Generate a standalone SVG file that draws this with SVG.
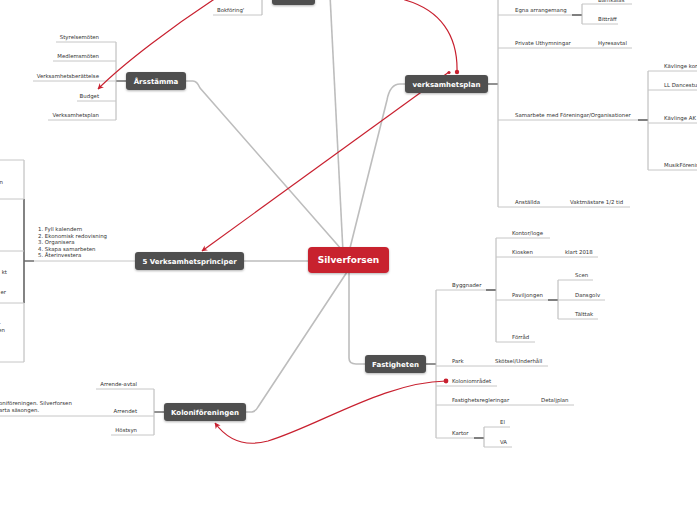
<svg xmlns="http://www.w3.org/2000/svg" width="697" height="520" viewBox="0 0 697 520">
<style>
.t{font-family:"DejaVu Sans",Verdana,sans-serif;font-size:5.4px;fill:#333}
.e{text-anchor:end}
.n{font-family:"DejaVu Sans",Verdana,sans-serif;font-size:7px;font-weight:bold;fill:#fff;text-anchor:middle}
.u{stroke:#c6c6c6;stroke-width:1;fill:none}
.v{stroke:#b4b4b4;stroke-width:1;fill:none}
.d{stroke:#555;stroke-width:1.3;fill:none}
.m{stroke:#bdbdbd;stroke-width:1.6;fill:none;stroke-linejoin:round}
.r{stroke:#c8202f;stroke-width:1.2;fill:none}
.box{fill:#4f4f4f}
</style>
<defs>
<marker id="ar" viewBox="0 0 10 10" refX="9" refY="5" markerWidth="6" markerHeight="6" orient="auto" markerUnits="userSpaceOnUse">
<path d="M0,0 L10,5 L0,10 L3,5 Z" fill="#c8202f"/>
</marker>
<filter id="sh" x="-10%" y="-20%" width="120%" height="150%">
<feDropShadow dx="0" dy="1" stdDeviation="0.8" flood-opacity="0.3"/>
</filter>
</defs>
<rect width="697" height="520" fill="#fff"/>

<g id="connectors">
<path class="m" d="M343,252 L330,-5"/>
<path class="m" d="M186,81 L193,81 Q197,81 200,88 L342,250"/>
<path class="m" d="M350,248 L387,100 Q390,84 400,84 L405,84"/>
<path class="m" d="M244,261 L308,261"/>
<path class="m" d="M246,412 L252,412 Q256,411 258,407 L347,272"/>
<path class="m" d="M349,273 L349,358 Q349,364 356,364 L365,364"/>

<!-- Top node branch -->
<path class="u" d="M213,15 L262,15"/>
<path class="v" d="M262,15 L262,-2"/>

<!-- Årsstämma branch -->
<path class="d" d="M116,81 L126,81"/>
<path class="v" d="M116,42 L116,120"/>
<path class="u" d="M56,42 L116,42 M53,61 L116,61 M33,81 L116,81 M77,101 L116,101 M48,120 L116,120"/>

<!-- verksamhetsplan branch -->
<path class="d" d="M488,84 L498,84"/>
<path class="v" d="M498,-2 L498,207"/>
<path class="u" d="M498,15 L572,15 M498,48 L632,48 M498,120 L638,120 M498,207 L630,207"/>
<path class="d" d="M572,15 L582,15 M638,120 L648,120"/>
<path class="v" d="M582,4 L582,24 M648,71 L648,170"/>
<path class="u" d="M582,4 L632,4 M582,24 L618,24 M648,71 L700,71 M648,90 L700,90 M648,123 L700,123 M648,170 L700,170"/>

<!-- 5 Verksamhetsprinciper branch -->
<path class="u" d="M34,261 L135,261"/>
<path class="d" d="M24,261 L34,261"/>
<path class="v" d="M24,160 L24,362"/>
<path class="d" d="M24,199 L24,303"/>
<path class="u" d="M-2,160 L24,160 M-2,199 L24,199 M-2,251 L24,251 M-2,303 L24,303 M-2,362 L24,362"/>

<!-- Koloniföreningen branch -->
<path class="d" d="M154,412 L164,412"/>
<path class="v" d="M154,389 L154,435"/>
<path class="u" d="M96,389 L154,389 M-2,416 L154,416 M111,435 L154,435"/>

<!-- Fastigheten branch -->
<path class="d" d="M426,364 L436,364"/>
<path class="v" d="M436,290 L436,438"/>
<path class="u" d="M436,290 L486,290 M436,366 L548,366 M436,386 L497,386 M436,405 L574,405 M436,438 L474,438"/>
<path class="d" d="M486,290 L496,290 M474,438 L484,438 M548,300 L558,300"/>
<path class="v" d="M496,238 L496,342 M558,280 L558,319 M484,427 L484,447"/>
<path class="u" d="M496,238 L550,238 M496,257 L598,257 M496,300 L548,300 M496,342 L535,342 M558,280 L593,280 M558,300 L605,300 M558,319 L598,319 M484,427 L510,427 M484,447 L512,447"/>

<!-- Relationships -->
<path class="r" d="M457,72 C458,35 440,10 405,0 C360,-25 260,-30 213,0 C175,25 125,62 98,89" marker-end="url(#ar)"/>
<path class="r" d="M449,72 L202,251" marker-end="url(#ar)"/>
<path class="r" d="M446,381 C385,382 320,425 268,441 C242,448 226,438 215,423" marker-end="url(#ar)"/>
<circle cx="457" cy="72" r="2.2" fill="#c8202f"/>
<circle cx="449" cy="72.5" r="1.6" fill="#c8202f"/>
<circle cx="446" cy="381" r="2.4" fill="#c8202f"/>
</g>

<g id="top-node">
<rect class="box" x="272" y="-14" width="43" height="19" rx="3" filter="url(#sh)"/>
<text class="t" x="217" y="12">Bokföring'</text>
</g>

<g id="arsstamma">
<rect class="box" x="126" y="72" width="60" height="18" rx="3" filter="url(#sh)"/>
<text class="n" x="156" y="83.5">Årsstämma</text>
<text class="t e" x="99" y="39">Styrelsemöten</text>
<text class="t e" x="99" y="58">Medlemsmöten</text>
<text class="t e" x="99" y="78">Verksamhetsberättelse</text>
<text class="t e" x="99" y="98">Budget</text>
<text class="t e" x="99" y="117">Verksamhetsplan</text>
</g>

<g id="verksamhetsplan">
<rect class="box" x="405" y="75" width="83" height="18" rx="3" filter="url(#sh)"/>
<text class="n" x="446.5" y="86.5">verksamhetsplan</text>
<text class="t" x="515" y="12">Egna arrangemang</text>
<text class="t" x="598" y="1.5">Barnkalas</text>
<text class="t" x="598" y="21">Bitträff</text>
<text class="t" x="515" y="45">Private Uthymningar</text>
<text class="t" x="598" y="45">Hyresavtal</text>
<text class="t" x="515" y="117">Samarbete med Föreningar/Organisationer</text>
<text class="t" x="664" y="68">Kävlinge kommun</text>
<text class="t" x="664" y="87">LL Dancestudio</text>
<text class="t" x="664" y="120">Kävlinge AK</text>
<text class="t" x="664" y="167">MusikFöreningen</text>
<text class="t" x="515" y="204">Anställda</text>
<text class="t" x="570" y="204">Vaktmästare 1/2 tid</text>
</g>

<g id="verksamhetsprinciper">
<rect class="box" x="135" y="252" width="109" height="18" rx="3" filter="url(#sh)"/>
<text class="n" x="189.5" y="263.5">5 Verksamhetsprinciper</text>
<text class="t" x="38" y="231">1. Fyll kalendern</text>
<text class="t" x="38" y="238">2. Ekonomisk redovisning</text>
<text class="t" x="38" y="244">3. Organisera</text>
<text class="t" x="38" y="251">4. Skapa samarbeten</text>
<text class="t" x="38" y="257">5. Återinvestera</text>
<text class="t e" x="3" y="184">n</text>
<text class="t e" x="7" y="274">kt</text>
<text class="t e" x="6" y="294">er</text>
<text class="t e" x="1" y="324">.</text>
<text class="t e" x="5" y="332">en</text>
</g>

<g id="koloniforeningen">
<rect class="box" x="164" y="403" width="82" height="18" rx="3" filter="url(#sh)"/>
<text class="n" x="205" y="414.5">Koloniföreningen</text>
<text class="t e" x="137" y="386">Arrende-avtal</text>
<text class="t e" x="137" y="413">Arrendet</text>
<text class="t e" x="137" y="432">Höstsyn</text>
<text class="t" x="-1" y="405">oniföreningen. Silverforsen</text>
<text class="t" x="-1" y="412">arta säsongen.</text>
</g>

<g id="fastigheten">
<rect class="box" x="365" y="355" width="61" height="18" rx="3" filter="url(#sh)"/>
<text class="n" x="395.5" y="366.5">Fastigheten</text>
<text class="t" x="452" y="287">Byggnader</text>
<text class="t" x="512" y="235">Kontor/loge</text>
<text class="t" x="512" y="254">Kiosken</text>
<text class="t" x="565" y="254">klart 2018</text>
<text class="t" x="512" y="297">Paviljongen</text>
<text class="t" x="575" y="277">Scen</text>
<text class="t" x="575" y="297">Dansgolv</text>
<text class="t" x="575" y="316">Tälttak</text>
<text class="t" x="512" y="339">Förråd</text>
<text class="t" x="452" y="363">Park</text>
<text class="t" x="495" y="363">Skötsel/Underhåll</text>
<text class="t" x="452" y="383">Koloniområdet</text>
<text class="t" x="452" y="402">Fastighetsregleringar</text>
<text class="t" x="541" y="402">Detaljplan</text>
<text class="t" x="452" y="435">Kartor</text>
<text class="t" x="500" y="424">El</text>
<text class="t" x="500" y="444">VA</text>
</g>

<g id="silverforsen">
<rect x="308" y="247" width="81" height="26" rx="4" fill="#c8202f" filter="url(#sh)"/>
<text class="n" x="348.5" y="263.3" style="font-size:9px">Silverforsen</text>
</g>
</svg>
